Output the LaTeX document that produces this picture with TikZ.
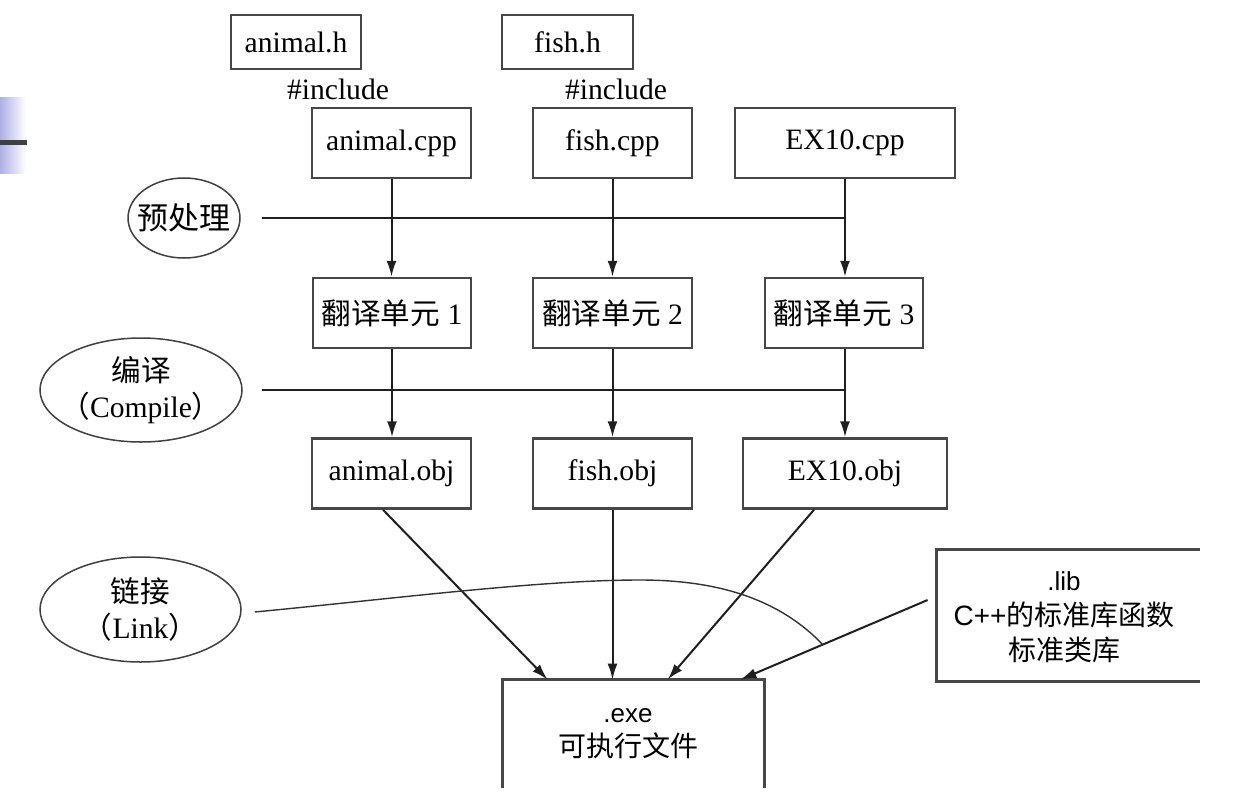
\documentclass[tikz,border=0pt]{standalone}
\usepackage{fontspec}
\setmainfont{Liberation Serif}
\newfontfamily\cjk{Noto Sans CJK SC}
\newfontfamily\sansf{Liberation Sans}
\usetikzlibrary{arrows.meta,shapes.geometric,calc}
\definecolor{deco}{RGB}{175,175,230}
\tikzset{
  box/.style={draw=black!72, line width=1.25pt, rectangle, inner sep=0pt, minimum height=35pt, font=\fontsize{14.8}{17}\selectfont},
  plain/.style={inner sep=0pt, font=\fontsize{14.8}{17}\selectfont},
  oval/.style={draw=black!75, line width=0.75pt, ellipse, inner sep=0pt},
  ovaltext/.style={inner sep=0pt, align=center, font=\fontsize{14.8}{18}\selectfont},
  arr/.style={draw=black!88, line width=1pt, -{Latex[length=8pt,width=5pt]}},
  ln/.style={draw=black!88, line width=1pt},
  thinln/.style={draw=black!80, line width=0.7pt},
  openbox/.style={draw=black!72, line width=1.25pt},
}
\begin{document}
\begin{tikzpicture}[x=0.5pt,y=-0.5pt]
\useasboundingbox (0,0) rectangle (1252,803);
\fill[white] (0,0) rectangle (1252,803);
% slide decoration at left edge
\shade[left color=deco, right color=white] (0,97) rectangle (26,173);
\draw[line width=2.5pt, black!75] (0,142) -- (27,142);

% headers
\node[box, minimum width=65pt, minimum height=27pt] (ah) at (296,42) {animal.h};
\node[box, minimum width=65.5pt, minimum height=27pt] (fh) at (567.5,42) {fish.h};
\node[plain] (inc1) at (338,89) {\#include};
\node[plain] (inc2) at (616,89) {\#include};

% sources
\node[box, minimum width=79.5pt] (acpp) at (391.5,143) {animal.cpp};
\node[box, minimum width=79.5pt] (fcpp) at (612.5,143) {fish.cpp};
\node[box, minimum width=110pt] (ecpp) at (845,143) {EX10.cpp};

% translation units
\node[box, minimum width=79pt] (tu1) at (392,313) {{\cjk 翻译单元} 1};
\node[box, minimum width=79.5pt] (tu2) at (612.5,313) {{\cjk 翻译单元} 2};
\node[box, minimum width=79pt] (tu3) at (844,313) {{\cjk 翻译单元} 3};

% objects
\node[box, minimum width=79.5pt] (aobj) at (391.5,473.5) {animal.obj};
\node[box, minimum width=79.5pt] (fobj) at (612.5,473.5) {fish.obj};
\node[box, minimum width=102pt] (eobj) at (845,473.5) {EX10.obj};

% exe (open bottom)
\node[inner sep=0pt, minimum width=130.5pt, minimum height=54pt] (exe) at (633.5,734) {};
\node[inner sep=0pt, align=center, font=\fontsize{14}{17}\selectfont] (exet) at (628,734)
  {{\sansf\fontsize{13}{17}\selectfont .exe}\\{\cjk 可执行文件}};
\draw[openbox] (exe.south west) -- (exe.north west) -- (exe.north east) -- (exe.south east);

% lib (open right)
\node[inner sep=0pt, minimum width=131.5pt, minimum height=65.5pt] (lib) at (1068.5,615.5) {};
\node[inner sep=0pt, align=center, font=\fontsize{14}{17.5}\selectfont] (libt) at (1064,617)
  {{\sansf\fontsize{13}{17.5}\selectfont .lib}\\{\sansf C++}{\cjk 的标准库函数}\\{\cjk 标准类库}};
\draw[openbox] (lib.north east) -- (lib.north west) -- (lib.south west) -- (lib.south east);

% ellipses
\node[oval, minimum width=56pt, minimum height=40pt] (pre) at (184,218) {};
\node[ovaltext, font=\cjk\fontsize{15.5}{18}\selectfont] (pret) at (184,218) {预处理};
\node[oval, minimum width=101pt, minimum height=52pt] (comp) at (141,390) {};
\node[ovaltext] (compt) at (141,390) {{\cjk 编译}\\{\cjk （}Compile{\cjk ）}};
\node[oval, minimum width=100.5pt, minimum height=52.5pt] (link) at (140.5,609.5) {};
\node[ovaltext] (linkt) at (140.5,609.5) {{\cjk 链接}\\{\cjk （}Link{\cjk ）}};

% stage lines
\draw[ln] ($(pre.east)+(21,0)$) -- (pre.east -| ecpp.south);
\draw[ln] ($(comp.east)+(19,0)$) -- (comp.east -| eobj.north);

% vertical arrows
\draw[arr] (acpp.south) -- (acpp.south |- tu1.north);
\draw[arr] (fcpp.south) -- (fcpp.south |- tu2.north);
\draw[arr] (ecpp.south) -- (ecpp.south |- tu3.north);
\draw[arr] (tu1.south) -- (tu1.south |- aobj.north);
\draw[arr] (tu2.south) -- (tu2.south |- fobj.north);
\draw[arr] (ecpp.south |- tu3.south) -- (ecpp.south |- eobj.north);

% link arrows
\draw[arr] ($(aobj.south)+(-8.5,0)$) -- ($(exe.north west)+(45,0)$);
\draw[arr] (fobj.south) -- (fobj.south |- exe.north);
\draw[arr] ($(eobj.south)+(-31,0)$) -- ($(exe.north west)+(165,0)$);
\coordinate (ls) at ($(lib.west)+(-9,-15.5)$);
\coordinate (le) at ($(exe.north east)+(-24,0)$);
\draw[arr] (ls) -- (le);
\path (ls) -- (le) coordinate[pos=0.56] (lk);

% link curve
\draw[thinln] ($(link.east)+(13,2.5)$) .. controls (400,598) and (540,580) .. (640,580)
  .. controls (720,580) and (780,600) .. (lk);
\end{tikzpicture}
\end{document}
